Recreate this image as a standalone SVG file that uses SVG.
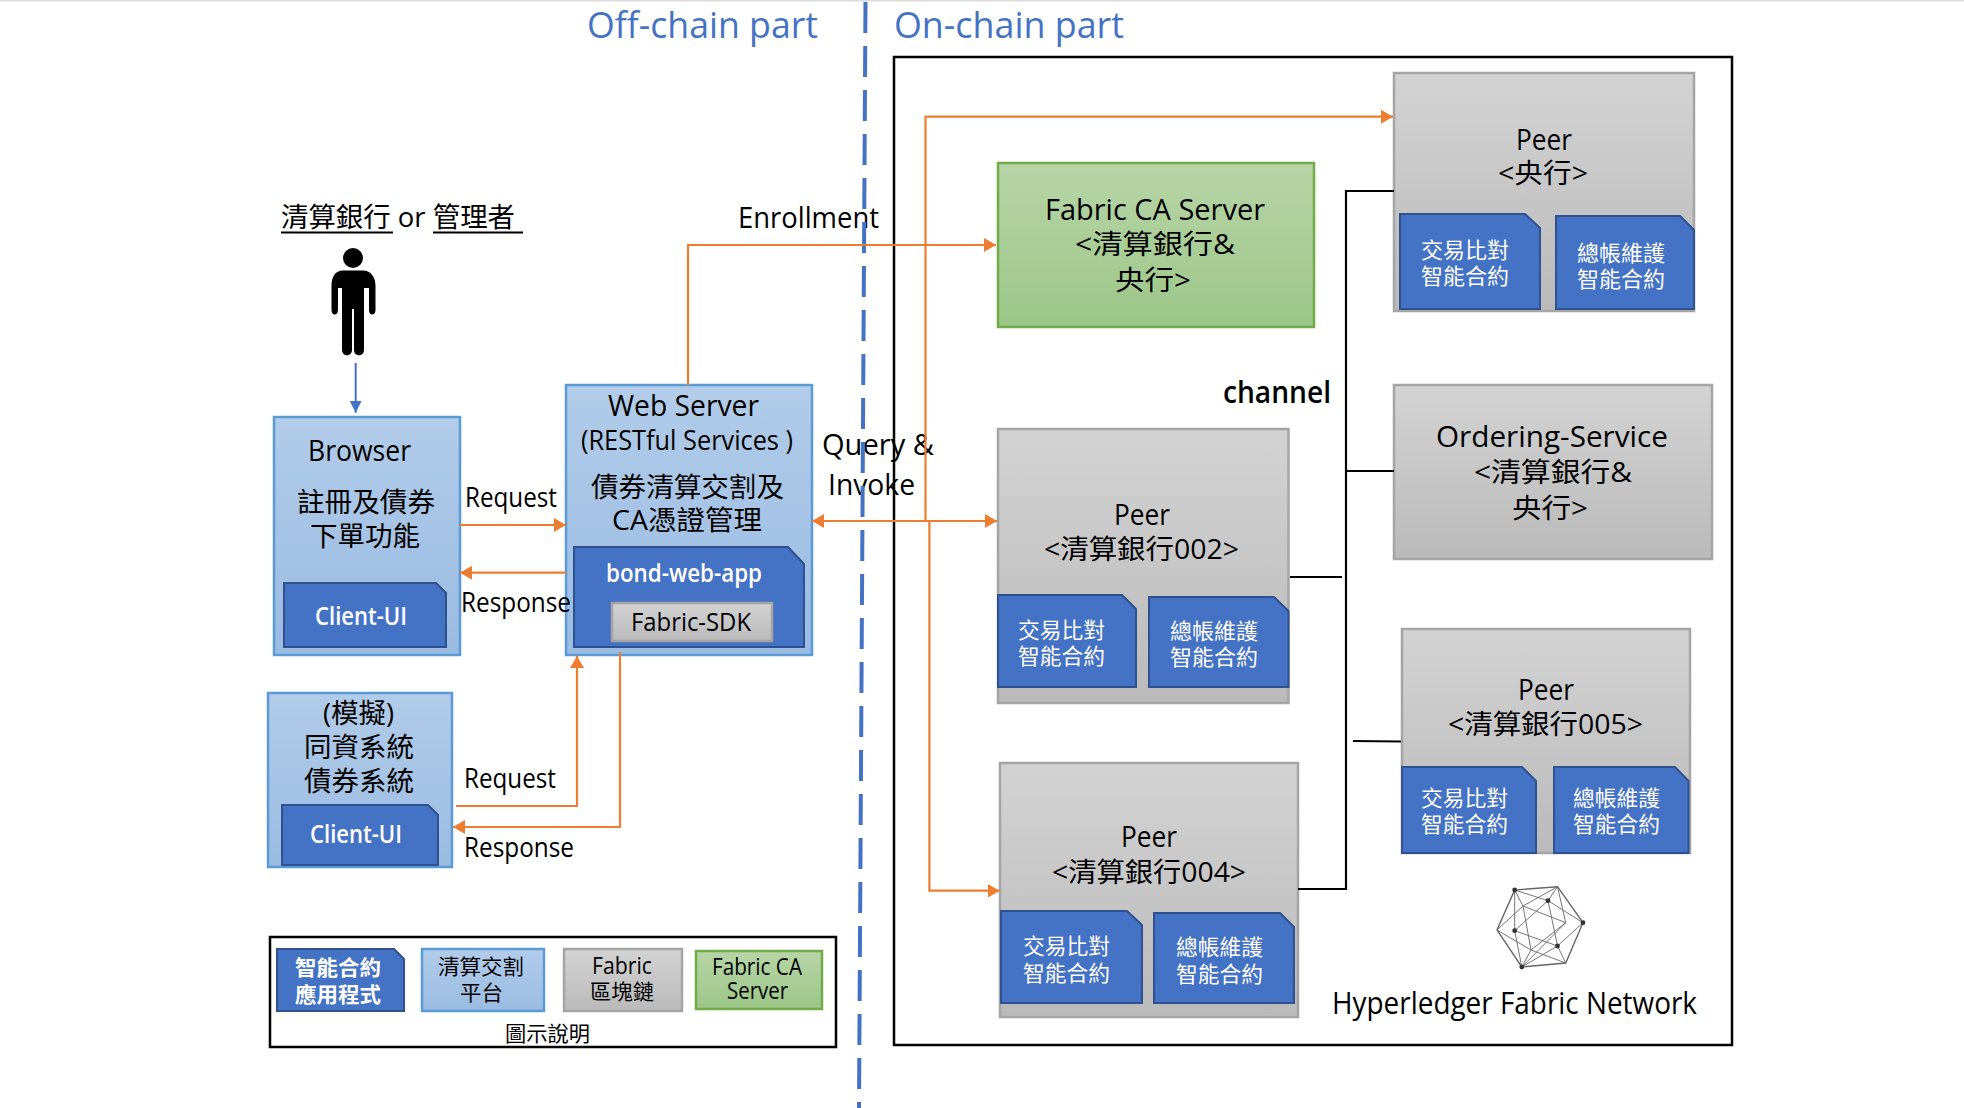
<svg xmlns="http://www.w3.org/2000/svg" width="1964" height="1108" viewBox="0 0 1964 1108">
<style>
text{font-family:"Open Sans","Noto Sans CJK TC",sans-serif;fill:#000;font-size:27.5px}
.t{font-size:30px}
.l{font-size:28px}
.w{fill:#fff;font-size:21.5px}
.b{font-weight:600}
.s{font-size:21px}
.sl{font-size:23px}
.lb{fill:url(#gb);stroke:#5B9BD5;stroke-width:2.5}
.gr{fill:url(#gg);stroke:#A5A5A5;stroke-width:2.5}
.gn{fill:url(#gn);stroke:#70AD47;stroke-width:2.5}
.db{fill:#4472C4;stroke:#2F528F;stroke-width:2}
.fr{fill:none;stroke:#000;stroke-width:2.5}
.or{fill:none;stroke:#ED7D31;stroke-width:2.2}
.bk{fill:none;stroke:#000;stroke-width:2.2}
.lg{stroke:#666;stroke-width:.9;fill:none}
.ttl{fill:#4472C4;font-size:37px}
</style>
<defs>
<linearGradient id="gb" x1="0" y1="0" x2="0" y2="1"><stop offset="0" stop-color="#B2CCE9"/><stop offset="1" stop-color="#9ABBE2"/></linearGradient>
<linearGradient id="gg" x1="0" y1="0" x2="0" y2="1"><stop offset="0" stop-color="#D3D3D3"/><stop offset="1" stop-color="#BABABA"/></linearGradient>
<linearGradient id="gn" x1="0" y1="0" x2="0" y2="1"><stop offset="0" stop-color="#B7D5A8"/><stop offset="1" stop-color="#9CC687"/></linearGradient>
<marker id="ao" markerUnits="userSpaceOnUse" markerWidth="13" markerHeight="16" refX="12" refY="8" orient="auto"><path d="M0 1L12 8L0 15Z" fill="#ED7D31"/></marker>
<marker id="ab" markerUnits="userSpaceOnUse" markerWidth="13" markerHeight="16" refX="12" refY="8" orient="auto"><path d="M0 2L12 8L0 14Z" fill="#4472C4"/></marker>
</defs>
<rect width="1964" height="1108" fill="#fff"/>
<rect width="1964" height="1.5" fill="#ddd"/>

<g id="titles">
<text class="ttl" x="587" y="38" textLength="231" lengthAdjust="spacingAndGlyphs">Off-chain part</text>
<text class="ttl" x="894" y="38" textLength="230" lengthAdjust="spacingAndGlyphs">On-chain part</text>
</g>

<g id="actor">
<text x="281" y="226.7" textLength="234" lengthAdjust="spacingAndGlyphs">清算銀行 or 管理者</text>
<path class="bk" d="M281 232.5H393M433 232.5H523"/>
<circle cx="353" cy="258" r="10" fill="#000"/>
<path fill="#000" d="M343 270.5H363C371 270.5 375.5 277 375.5 286V310C375.5 316 369 316 369 310V288H364V350C364 357 354 357 354 350V309H352V350C352 357 342 357 342 350V288H338V310C338 316 331.5 316 331.5 310V286C331.5 277 335 270.5 343 270.5Z"/>
</g>

<g id="browser">
<rect class="lb" x="274" y="417" width="186" height="238"/>
<text class="t" x="308" y="461" textLength="103" lengthAdjust="spacingAndGlyphs">Browser</text>
<text x="297" y="512" textLength="138" lengthAdjust="spacingAndGlyphs">註冊及債券</text>
<text x="310" y="546" textLength="110" lengthAdjust="spacingAndGlyphs">下單功能</text>
<path class="db" d="M284 583H436L446 593V647H284Z"/>
<text class="w b" x="315" y="625" textLength="92" lengthAdjust="spacingAndGlyphs" style="font-size:25px">Client-UI</text>
</g>

<g id="web-server">
<rect class="lb" x="566" y="385" width="246" height="270"/>
<text class="t" x="608" y="416" textLength="151" lengthAdjust="spacingAndGlyphs">Web Server</text>
<text x="581" y="450" textLength="212" lengthAdjust="spacingAndGlyphs" style="font-size:27px">(RESTful Services )</text>
<text x="591" y="496.7" textLength="193" lengthAdjust="spacingAndGlyphs">債券清算交割及</text>
<text x="612" y="530" textLength="150" lengthAdjust="spacingAndGlyphs">CA憑證管理</text>
<path class="db" d="M574 547H788L804 564V647H574Z"/>
<text class="w b" x="606" y="581.7" textLength="156" lengthAdjust="spacingAndGlyphs" style="font-size:26px">bond-web-app</text>
<rect x="612" y="603" width="160" height="38" fill="url(#gg)" stroke="#A5A5A5" stroke-width="2.5"/>
<text x="631" y="630.7" textLength="120" lengthAdjust="spacingAndGlyphs" style="font-size:26px">Fabric-SDK</text>
</g>

<g id="simulator">
<rect class="lb" x="268" y="693" width="184" height="174"/>
<text x="323" y="722.7" textLength="71" lengthAdjust="spacingAndGlyphs">(模擬)</text>
<text x="304" y="756.7" textLength="110" lengthAdjust="spacingAndGlyphs">同資系統</text>
<text x="304" y="790.7" textLength="110" lengthAdjust="spacingAndGlyphs">債券系統</text>
<path class="db" d="M282 805H428L438 815V865H282Z"/>
<text class="w b" x="310" y="842.7" textLength="92" lengthAdjust="spacingAndGlyphs" style="font-size:25px">Client-UI</text>
</g>

<g id="legend">
<rect class="fr" x="270" y="937" width="566" height="110"/>
<path class="db" d="M277 949H394L404 959V1011H277Z"/>
<text class="w b s" x="295" y="975" textLength="86" lengthAdjust="spacingAndGlyphs">智能合約</text>
<text class="w b s" x="295" y="1001.7" textLength="86" lengthAdjust="spacingAndGlyphs">應用程式</text>
<rect class="lb" x="422" y="949" width="122" height="62"/>
<text class="s" x="438" y="974" textLength="86" lengthAdjust="spacingAndGlyphs">清算交割</text>
<text class="s" x="460" y="1000" textLength="43" lengthAdjust="spacingAndGlyphs">平台</text>
<rect class="gr" x="564" y="949" width="118" height="62"/>
<text class="sl" x="592" y="974" textLength="60" lengthAdjust="spacingAndGlyphs">Fabric</text>
<text class="s" x="590" y="999" textLength="64" lengthAdjust="spacingAndGlyphs">區塊鏈</text>
<rect class="gn" x="696" y="951" width="126" height="58"/>
<text class="sl" x="712" y="975" textLength="90" lengthAdjust="spacingAndGlyphs">Fabric CA</text>
<text class="sl" x="727" y="999" textLength="61" lengthAdjust="spacingAndGlyphs">Server</text>
<text class="s" x="505" y="1040.5" textLength="85" lengthAdjust="spacingAndGlyphs">圖示說明</text>
</g>

<g id="network-frame">
<rect class="fr" x="894" y="57" width="838" height="988"/>
<text x="1332" y="1014" textLength="365" lengthAdjust="spacingAndGlyphs" style="font-size:31px">Hyperledger Fabric Network</text>
<text class="b" x="1223" y="403.3" textLength="108" lengthAdjust="spacingAndGlyphs" style="font-size:30px">channel</text>
</g>

<g id="fabric-logo">
<path class="lg" style="stroke-width:1.4" d="M1514.7 890L1557.5 886.7L1583 922.7L1565.7 963L1521.8 967L1497 930Z"/>
<path class="lg" d="M1514.7 890L1523 906L1565.7 922.7L1531 950L1497 930L1523 906M1557.5 886.7L1523 906M1514.7 890L1548 900.7L1583 922.7M1557.5 886.7L1548 900.7L1514.7 930.7L1557.5 946L1583 922.7M1523 906L1531 950L1521.8 967L1557.5 946L1565.7 963L1531 950M1565.7 922.7L1557.5 886.7M1565.7 922.7L1521.8 967M1514.7 890L1514.7 930.7L1521.8 967M1548 900.7L1557.5 946"/>
<g fill="#333"><circle cx="1514.7" cy="890" r="2.4"/><circle cx="1548" cy="900.7" r="2.4"/><circle cx="1583" cy="922.7" r="2.4"/><circle cx="1514.7" cy="930.7" r="2.4"/><circle cx="1557.5" cy="946" r="2.4"/><circle cx="1521.8" cy="967" r="2.4"/></g>
</g>

<g id="ca-server">
<rect class="gn" x="998" y="163" width="316" height="164"/>
<text class="t" x="1045" y="220" textLength="220" lengthAdjust="spacingAndGlyphs">Fabric CA Server</text>
<text x="1075" y="254" textLength="160" lengthAdjust="spacingAndGlyphs">&lt;清算銀行&amp;</text>
<text x="1115" y="290" textLength="76" lengthAdjust="spacingAndGlyphs">央行&gt;</text>
</g>

<g id="peer-central">
<rect class="gr" x="1394" y="73" width="300" height="238"/>
<text class="t" x="1516" y="150" textLength="56" lengthAdjust="spacingAndGlyphs">Peer</text>
<text x="1498" y="183" textLength="90" lengthAdjust="spacingAndGlyphs">&lt;央行&gt;</text>
<path class="db" d="M1400 214H1525L1540 228V309H1400Z"/>
<text class="w" x="1421" y="258" textLength="88" lengthAdjust="spacingAndGlyphs">交易比對</text>
<text class="w" x="1421" y="284" textLength="88" lengthAdjust="spacingAndGlyphs">智能合約</text>
<path class="db" d="M1556 216H1680L1694 230V309H1556Z"/>
<text class="w" x="1577" y="260.7" textLength="88" lengthAdjust="spacingAndGlyphs">總帳維護</text>
<text class="w" x="1577" y="286.7" textLength="88" lengthAdjust="spacingAndGlyphs">智能合約</text>
</g>

<g id="ordering-service">
<rect class="gr" x="1394" y="385" width="318" height="174"/>
<text class="t" x="1436" y="447" textLength="232" lengthAdjust="spacingAndGlyphs">Ordering-Service</text>
<text x="1474" y="481.7" textLength="158" lengthAdjust="spacingAndGlyphs">&lt;清算銀行&amp;</text>
<text x="1512" y="518" textLength="76" lengthAdjust="spacingAndGlyphs">央行&gt;</text>
</g>

<g id="peer-002">
<rect class="gr" x="998" y="429" width="290.5" height="274"/>
<text class="t" x="1114" y="525" textLength="56" lengthAdjust="spacingAndGlyphs">Peer</text>
<text x="1044" y="559" textLength="195" lengthAdjust="spacingAndGlyphs">&lt;清算銀行002&gt;</text>
<path class="db" d="M998 595H1122L1136 609V687H998Z"/>
<text class="w" x="1018" y="638" textLength="87" lengthAdjust="spacingAndGlyphs">交易比對</text>
<text class="w" x="1018" y="664" textLength="87" lengthAdjust="spacingAndGlyphs">智能合約</text>
<path class="db" d="M1149 597H1274L1288.5 611V687H1149Z"/>
<text class="w" x="1170" y="639" textLength="88" lengthAdjust="spacingAndGlyphs">總帳維護</text>
<text class="w" x="1170" y="665" textLength="88" lengthAdjust="spacingAndGlyphs">智能合約</text>
</g>

<g id="peer-005">
<rect class="gr" x="1402" y="629" width="288" height="224"/>
<text class="t" x="1518" y="700" textLength="56" lengthAdjust="spacingAndGlyphs">Peer</text>
<text x="1448" y="734" textLength="195" lengthAdjust="spacingAndGlyphs">&lt;清算銀行005&gt;</text>
<path class="db" d="M1402 767H1522L1536 781V853H1402Z"/>
<text class="w" x="1421" y="806" textLength="87" lengthAdjust="spacingAndGlyphs">交易比對</text>
<text class="w" x="1421" y="831.7" textLength="87" lengthAdjust="spacingAndGlyphs">智能合約</text>
<path class="db" d="M1554 767H1675L1688.5 781V853H1554Z"/>
<text class="w" x="1573" y="806" textLength="87" lengthAdjust="spacingAndGlyphs">總帳維護</text>
<text class="w" x="1573" y="831.7" textLength="87" lengthAdjust="spacingAndGlyphs">智能合約</text>
</g>

<g id="peer-004">
<rect class="gr" x="1000" y="763" width="298" height="254"/>
<text class="t" x="1121" y="847" textLength="56" lengthAdjust="spacingAndGlyphs">Peer</text>
<text x="1052" y="881.7" textLength="194" lengthAdjust="spacingAndGlyphs">&lt;清算銀行004&gt;</text>
<path class="db" d="M1001 911H1127L1142 925V1003H1001Z"/>
<text class="w" x="1023" y="954" textLength="87" lengthAdjust="spacingAndGlyphs">交易比對</text>
<text class="w" x="1023" y="980.7" textLength="87" lengthAdjust="spacingAndGlyphs">智能合約</text>
<path class="db" d="M1154 913H1280L1294 927V1003H1154Z"/>
<text class="w" x="1176" y="955" textLength="87" lengthAdjust="spacingAndGlyphs">總帳維護</text>
<text class="w" x="1176" y="981.7" textLength="87" lengthAdjust="spacingAndGlyphs">智能合約</text>
</g>

<g id="labels">
<text class="t" x="738" y="227.7" textLength="141" lengthAdjust="spacingAndGlyphs">Enrollment</text>
<text class="l" x="465" y="506.7" textLength="92" lengthAdjust="spacingAndGlyphs">Request</text>
<text class="l" x="461" y="611.7" textLength="110" lengthAdjust="spacingAndGlyphs">Response</text>
<text class="l" x="464" y="788" textLength="92" lengthAdjust="spacingAndGlyphs">Request</text>
<text class="l" x="464" y="856.7" textLength="110" lengthAdjust="spacingAndGlyphs">Response</text>
<text class="t" x="822" y="455" textLength="112" lengthAdjust="spacingAndGlyphs">Query &amp;</text>
<text class="t" x="828" y="495" textLength="87" lengthAdjust="spacingAndGlyphs">Invoke</text>
</g>

<g id="connectors">
<path d="M865.5 0L859 1108" fill="none" stroke="#4472C4" stroke-width="4" stroke-dasharray="31 13" stroke-dashoffset="-2"/>
<path d="M355.7 363V412.7" fill="none" stroke="#4472C4" stroke-width="2" marker-end="url(#ab)"/>
<path class="or" d="M460 525H566" marker-end="url(#ao)"/>
<path class="or" d="M566 572.7H460" marker-end="url(#ao)"/>
<path class="or" d="M688 385V245H996" marker-end="url(#ao)"/>
<path class="or" d="M925.5 521V116.7H1393" marker-end="url(#ao)"/>
<path class="or" d="M870 521H997" marker-end="url(#ao)"/>
<path class="or" d="M870 521H812" marker-end="url(#ao)"/>
<path class="or" d="M929.4 521V890.7H999.6" marker-end="url(#ao)"/>
<path class="or" d="M456 806H577V656" marker-end="url(#ao)"/>
<path class="or" d="M620 652V827H453" marker-end="url(#ao)"/>
<path class="bk" d="M1394 191H1346V889H1298M1346 471H1394"/>
<path class="bk" d="M1290 577H1342M1353 741L1401 741.5"/>
</g>
</svg>
